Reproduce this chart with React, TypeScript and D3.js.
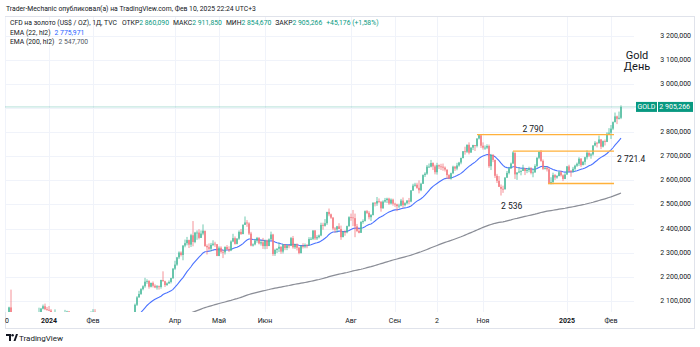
import React from "react";
import * as d3 from "d3";

type Bar = [number, number, number]; // high, low, close (open = previous close)

const firstOpen = 2040;

const nov23: Bar[] = [[2052, 2036, 2044], [2048, 2031, 2036]];
const dec23: Bar[] = [
  [2075, 2035, 2072], [2146, 2018, 2029], [2039, 2010, 2019], [2036, 2016, 2025], [2035, 2017, 2028],
  [2035, 1994, 2004], [2006, 1976, 1982], [1995, 1973, 1980], [2031, 1974, 2027], [2048, 2018, 2036],
  [2047, 2016, 2019], [2030, 2016, 2027], [2047, 2023, 2040], [2046, 2028, 2031], [2050, 2029, 2045],
  [2071, 2044, 2053], [2070, 2052, 2067], [2084, 2064, 2077], [2088, 2061, 2065], [2074, 2058, 2062],
];
const jan24: Bar[] = [
  [2078, 2057, 2059], [2065, 2030, 2042], [2051, 2035, 2043], [2064, 2024, 2045], [2046, 2017, 2027],
  [2041, 2022, 2030], [2038, 2020, 2024], [2040, 2013, 2029], [2062, 2029, 2049], [2058, 2045, 2055],
  [2057, 2024, 2028], [2031, 2001, 2006], [2025, 2008, 2023], [2036, 2018, 2029], [2033, 2016, 2022],
  [2035, 2010, 2029], [2037, 2012, 2014], [2024, 2009, 2020], [2025, 2012, 2018], [2036, 2016, 2033],
  [2043, 2030, 2037], [2056, 2032, 2039],
];
const feb24: Bar[] = [
  [2065, 2031, 2054], [2065, 2032, 2039], [2040, 2014, 2025], [2039, 2021, 2035], [2041, 2027, 2035],
  [2041, 2024, 2034], [2036, 2018, 2024], [2028, 2015, 2020], [2032, 1990, 1992], [1997, 1984, 1992],
  [2007, 1985, 2004], [2015, 1995, 2013], [2022, 2011, 2018], [2031, 2014, 2025], [2030, 2017, 2025],
  [2034, 2015, 2024], [2041, 2023, 2035], [2036, 2025, 2031], [2037, 2025, 2030], [2038, 2024, 2034],
  [2052, 2030, 2044],
];
const mar24: Bar[] = [
  [2088, 2043, 2083], [2119, 2078, 2114], [2141, 2112, 2128], [2152, 2124, 2148], [2164, 2143, 2160],
  [2195, 2154, 2179], [2189, 2170, 2182], [2185, 2150, 2158], [2175, 2155, 2174], [2180, 2155, 2162],
  [2168, 2152, 2155], [2165, 2146, 2160], [2163, 2146, 2157], [2187, 2150, 2186], [2222, 2179, 2181],
  [2183, 2157, 2165], [2176, 2162, 2172], [2184, 2170, 2178], [2195, 2172, 2194], [2236, 2190, 2233],
];
const apr24: Bar[] = [
  [2266, 2228, 2250], [2282, 2245, 2280], [2305, 2273, 2300], [2305, 2284, 2290], [2331, 2268, 2329],
  [2354, 2322, 2339], [2365, 2330, 2352], [2354, 2319, 2333], [2378, 2323, 2372], [2431, 2326, 2344],
  [2386, 2339, 2383], [2392, 2353, 2383], [2397, 2355, 2361], [2392, 2361, 2379], [2417, 2372, 2391],
  [2389, 2324, 2327], [2334, 2292, 2322], [2338, 2310, 2316], [2340, 2305, 2332], [2351, 2327, 2337],
  [2345, 2324, 2335], [2335, 2285, 2286],
];
const may24: Bar[] = [
  [2326, 2285, 2320], [2326, 2296, 2303], [2311, 2277, 2301], [2326, 2292, 2323], [2331, 2311, 2314],
  [2326, 2302, 2309], [2351, 2306, 2346], [2378, 2343, 2360], [2367, 2333, 2336], [2360, 2334, 2358],
  [2392, 2353, 2386], [2398, 2373, 2377], [2418, 2376, 2415], [2450, 2415, 2425], [2435, 2407, 2421],
  [2426, 2373, 2379], [2386, 2326, 2329], [2338, 2325, 2334], [2357, 2330, 2350], [2365, 2341, 2361],
  [2364, 2334, 2338], [2352, 2329, 2343], [2361, 2315, 2327],
];
const jun24: Bar[] = [
  [2354, 2314, 2350], [2354, 2315, 2327], [2359, 2327, 2355], [2387, 2352, 2375], [2378, 2286, 2294],
  [2316, 2286, 2311], [2318, 2298, 2316], [2342, 2302, 2324], [2326, 2295, 2304], [2335, 2296, 2333],
  [2335, 2310, 2319], [2334, 2310, 2330], [2332, 2318, 2328], [2365, 2327, 2360], [2369, 2316, 2322],
  [2337, 2315, 2334], [2338, 2309, 2320], [2324, 2293, 2298], [2331, 2296, 2327], [2339, 2317, 2326],
];
const jul24: Bar[] = [
  [2338, 2318, 2332], [2335, 2318, 2330], [2364, 2328, 2356], [2364, 2352, 2357], [2392, 2352, 2392],
  [2393, 2352, 2359], [2372, 2352, 2364], [2375, 2359, 2371], [2424, 2368, 2415], [2424, 2395, 2411],
  [2439, 2408, 2422], [2469, 2415, 2469], [2483, 2451, 2459], [2462, 2440, 2445], [2448, 2393, 2400],
  [2406, 2383, 2396], [2411, 2384, 2409], [2422, 2398, 2398], [2412, 2353, 2364], [2390, 2364, 2386],
  [2393, 2370, 2384], [2412, 2380, 2410], [2451, 2407, 2447],
];
const aug24: Bar[] = [
  [2462, 2432, 2446], [2477, 2410, 2443], [2462, 2364, 2409], [2419, 2385, 2390], [2400, 2380, 2382],
  [2431, 2382, 2427], [2438, 2420, 2431], [2475, 2429, 2472], [2477, 2460, 2465], [2472, 2438, 2447],
  [2460, 2431, 2456], [2509, 2454, 2507], [2510, 2492, 2504], [2531, 2494, 2514], [2525, 2505, 2512],
  [2512, 2470, 2484], [2517, 2482, 2512], [2527, 2507, 2518], [2528, 2506, 2524], [2528, 2498, 2504],
  [2525, 2500, 2520], [2524, 2495, 2503],
];
const sep24: Bar[] = [
  [2507, 2490, 2500], [2503, 2472, 2493], [2503, 2484, 2495], [2523, 2492, 2516], [2529, 2486, 2497],
  [2509, 2492, 2505], [2518, 2500, 2516], [2527, 2501, 2512], [2560, 2509, 2558], [2586, 2556, 2578],
  [2590, 2574, 2582], [2590, 2565, 2569], [2600, 2546, 2559], [2590, 2555, 2586], [2625, 2585, 2622],
  [2634, 2614, 2628], [2664, 2623, 2657], [2670, 2652, 2657], [2685, 2654, 2672], [2675, 2643, 2658],
  [2665, 2625, 2634],
];
const oct24: Bar[] = [
  [2673, 2624, 2663], [2666, 2647, 2658], [2669, 2643, 2657], [2670, 2640, 2653], [2658, 2637, 2645],
  [2645, 2606, 2622], [2626, 2605, 2608], [2632, 2603, 2630], [2661, 2626, 2657], [2660, 2639, 2649],
  [2673, 2642, 2662], [2677, 2657, 2674], [2695, 2667, 2693], [2722, 2691, 2721], [2740, 2707, 2719],
  [2749, 2714, 2748], [2758, 2708, 2715], [2738, 2716, 2736], [2748, 2726, 2747], [2747, 2722, 2743],
  [2775, 2737, 2774], [2790, 2770, 2788], [2786, 2735, 2744],
];
const nov24: Bar[] = [
  [2758, 2728, 2736], [2745, 2727, 2736], [2750, 2730, 2743], [2749, 2652, 2659], [2710, 2643, 2706],
  [2709, 2676, 2685], [2686, 2610, 2619], [2627, 2589, 2598], [2618, 2573, 2573], [2583, 2537, 2565],
  [2578, 2548, 2563], [2614, 2562, 2611], [2639, 2611, 2631], [2656, 2625, 2650], [2674, 2649, 2670],
  [2721, 2669, 2716], [2713, 2606, 2625], [2633, 2602, 2633], [2655, 2630, 2637], [2645, 2621, 2639],
  [2665, 2640, 2650],
];
const dec24: Bar[] = [
  [2652, 2622, 2639], [2650, 2630, 2643], [2657, 2634, 2650], [2655, 2625, 2631], [2648, 2613, 2633],
  [2667, 2632, 2660], [2696, 2654, 2694], [2721, 2688, 2718], [2726, 2677, 2681], [2687, 2643, 2648],
  [2658, 2645, 2652], [2657, 2637, 2646], [2653, 2584, 2586], [2613, 2583, 2593], [2632, 2584, 2622],
  [2626, 2602, 2612], [2622, 2607, 2618], [2639, 2617, 2634], [2640, 2616, 2621], [2625, 2597, 2606],
  [2630, 2605, 2624],
];
const jan25: Bar[] = [
  [2660, 2624, 2658], [2665, 2634, 2640], [2643, 2615, 2636], [2656, 2632, 2648], [2665, 2640, 2661],
  [2674, 2656, 2669], [2696, 2660, 2690], [2693, 2656, 2663], [2680, 2664, 2677], [2698, 2665, 2696],
  [2725, 2687, 2715], [2716, 2697, 2703], [2714, 2690, 2708], [2746, 2703, 2745], [2763, 2742, 2756],
  [2760, 2737, 2755], [2786, 2752, 2770], [2772, 2730, 2740], [2766, 2737, 2763], [2770, 2745, 2760],
  [2800, 2759, 2794], [2817, 2790, 2798],
];
const feb25: Bar[] = [
  [2830, 2772, 2815], [2845, 2809, 2842], [2882, 2841, 2866], [2869, 2834, 2856], [2886, 2853, 2860.09],
  [2911.85, 2854.67, 2905.266],
];

const monthGroups: Bar[][] = [nov23, dec23, jan24, feb24, mar24, apr24, may24, jun24, jul24, aug24, sep24, oct24, nov24, dec24, jan25, feb25];
const monthLabels = ["0", "", "2024", "Фев", "", "Апр", "Май", "Июн", "", "Авг", "Сен", "2", "Ноя", "", "2025", "Фев"];
const boldLabels = ["2024", "2025"];

const priceTicks = [2100, 2200, 2300, 2400, 2500, 2600, 2700, 2800, 2900, 3000, 3100, 3200];
const hiddenPriceTicks = [2900];

// horizontal levels drawn by the author: price, start bar index, end bar index
const levels: [number, number, number][] = [
  [2790, 236, 304.5],
  [2721.4, 254, 304.5],
  [2587, 271.5, 304.5],
];
// text, bar index, price position, anchor
const levelTexts: [string, number, number, string][] = [
  ["2 790", 264, 2815, "middle"],
  ["2 536", 248, 2495, "start"],
  ["2 721.4", 306, 2690, "start"],
];

const ema200Seed = 1962;

const headerLine = "Trader-Mechanic опубликовал(а) на TradingView.com, Фев 10, 2025 22:24 UTC+3";
const legendTitle = "CFD на золото (US$ / OZ), 1Д, TVC";
const legendOHLC: [string, string][] = [["ОТКР", "2 860,090"], ["МАКС", "2 911,850"], ["МИН", "2 854,670"], ["ЗАКР", "2 905,266"]];
const legendChange = "+45,176 (+1,58%)";
const ema22Label = ["EMA (22, hl2)", "2 775,971"];
const ema200Label = ["EMA (200, hl2)", "2 547,700"];
const lastLabel = ["GOLD", "2 905,266"];

const UP = "#4dbb9d";
const DOWN = "#f3777e";
const TEXT = "#131722";
const FONT = "Roboto, 'Noto Sans', sans-serif";

function ema(vals: number[], period: number, seed?: number) {
  const a = 2 / (period + 1);
  let e = seed ?? vals[0];
  return vals.map((v) => (e = e + a * (v - e)));
}

export default function App() {
  const bars: Bar[] = monthGroups.flat();
  const N = bars.length;
  const starts: number[] = [];
  let acc = 0;
  monthGroups.forEach((g) => {
    starts.push(acc);
    acc += g.length;
  });

  const plot = { left: 5, right: 634, top: 17, bottom: 312 };
  const x = d3.scaleLinear().domain([0, N - 1]).range([5, 5 + 2 * (N - 1)]);
  const y = d3.scaleLinear().domain([2100, 3200]).range([300.7, 36]);
  const loc = d3.formatLocale({ decimal: ",", thousands: " ", grouping: [3], currency: ["", ""] });
  const fmt = loc.format(",.3f");

  const hl2 = bars.map((b) => (b[0] + b[1]) / 2);
  const e22 = ema(hl2, 22);
  const e200 = ema(hl2, 200, ema200Seed);
  const line = d3
    .line<number>()
    .x((_, i) => x(i))
    .y((v) => y(v));

  const last = bars[N - 1][2];

  return (
    <svg width={700} height={347} style={{ display: "block", position: "absolute", left: 0, top: 0 }} fontFamily={FONT}>
      <rect width={700} height={347} fill="#ffffff" />
      <defs>
        <clipPath id="plotClip">
          <rect x={plot.left} y={plot.top} width={plot.right - plot.left} height={plot.bottom - plot.top} />
        </clipPath>
      </defs>
      {/* panel border */}
      <rect x={5.5} y={16.5} width={689} height={312} fill="none" stroke="#e0e3eb" strokeWidth={1} />

      {/* grid */}
      <g stroke="#f0f3fa" strokeWidth={1}>
        {priceTicks.map((p) => (
          <line key={p} x1={plot.left} x2={plot.right} y1={Math.round(y(p)) + 0.5} y2={Math.round(y(p)) + 0.5} />
        ))}
        {monthLabels.map((l, k) =>
          l ? <line key={k} x1={Math.round(x(starts[k])) + 0.5} x2={Math.round(x(starts[k])) + 0.5} y1={plot.top} y2={plot.bottom} /> : null
        )}
      </g>

      {/* last price line */}
      <line x1={plot.left} x2={636} y1={y(last)} y2={y(last)} stroke="#089981" strokeOpacity={0.3} strokeWidth={1} />

      <g clipPath="url(#plotClip)">
        {/* EMAs */}
        <path d={line(e200) || ""} fill="none" stroke="#8a8d96" strokeWidth={1.2} />
        <path d={line(e22) || ""} fill="none" stroke="#4a72ff" strokeWidth={1.1} />
        {/* candles */}
        {bars.map((b, i) => {
          const o = i === 0 ? firstOpen : bars[i - 1][2];
          const [h, l, c] = b;
          const up = c >= o;
          const col = up ? UP : DOWN;
          const cx = x(i);
          const top = y(Math.max(o, c));
          const bh = Math.max(0.8, y(Math.min(o, c)) - top);
          return (
            <g key={i}>
              <line x1={cx} x2={cx} y1={y(h)} y2={y(l)} stroke={col} strokeWidth={0.8} />
              <rect x={cx - 0.75} y={top} width={1.5} height={bh} fill={col} />
            </g>
          );
        })}
        {/* levels */}
        {levels.map(([p, a, b], k) => (
          <line key={k} x1={x(a)} x2={x(b)} y1={y(p)} y2={y(p)} stroke="#ffb13b" strokeWidth={1.4} />
        ))}
      </g>

      {/* level texts */}
      {levelTexts.map(([t, bi, p, anchor], k) => (
        <text key={k} x={x(bi)} y={y(p)} fontSize={8.5} fill={TEXT} textAnchor={anchor} dominantBaseline="central">
          {t}
        </text>
      ))}
      <text x={637} y={55} fontSize={11} fill={TEXT} textAnchor="middle" dominantBaseline="central">Gold</text>
      <text x={637} y={66.5} fontSize={11} fill={TEXT} textAnchor="middle" dominantBaseline="central">День</text>

      {/* price axis */}
      {priceTicks
        .filter((p) => !hiddenPriceTicks.includes(p))
        .map((p) => (
          <text key={p} x={691} y={y(p)} fontSize={7} fill={TEXT} textAnchor="end" dominantBaseline="central">
            {fmt(p)}
          </text>
        ))}
      <rect x={636} y={y(last) - 5} width={21} height={10} fill="#089981" />
      <rect x={658} y={y(last) - 5} width={35} height={10} fill="#089981" />
      <text x={646.5} y={y(last)} fontSize={7} fill="#fff" textAnchor="middle" dominantBaseline="central">{lastLabel[0]}</text>
      <text x={690} y={y(last)} fontSize={7} fill="#fff" textAnchor="end" dominantBaseline="central">{lastLabel[1]}</text>

      {/* time axis */}
      {monthLabels.map((l, k) =>
        l ? (
          <text key={k} x={Math.max(7, x(starts[k]))} y={320.5} fontSize={7} fill={TEXT} textAnchor="middle" dominantBaseline="central" fontWeight={boldLabels.includes(l) ? 700 : 400}>
            {l}
          </text>
        ) : null
      )}

      {/* header */}
      <text x={6} y={8.7} fontSize={6.8} fill={TEXT} dominantBaseline="central">{headerLine}</text>
      <text x={10} y={23.3} fontSize={6.8} fill={TEXT} dominantBaseline="central">
        <tspan>{legendTitle}</tspan>
        {legendOHLC.map(([k, v], i) => (
          <React.Fragment key={i}>
            <tspan dx={i === 0 ? 5 : 4}>{k}</tspan>
            <tspan fill="#089981">{v}</tspan>
          </React.Fragment>
        ))}
        <tspan dx={4} fill="#089981">{legendChange}</tspan>
      </text>
      <text x={10} y={32.7} fontSize={6.8} fill={TEXT} dominantBaseline="central">
        <tspan>{ema22Label[0]}</tspan>
        <tspan dx={4} fill="#2962ff">{ema22Label[1]}</tspan>
      </text>
      <text x={10} y={42} fontSize={6.8} fill={TEXT} dominantBaseline="central">
        <tspan>{ema200Label[0]}</tspan>
        <tspan dx={4} fill="#555a66">{ema200Label[1]}</tspan>
      </text>

      {/* TradingView logo */}
      <g fill={TEXT} transform="translate(6,334)">
        <path d="M0 0 H5 V7 H3 V2 H0 Z" />
        <circle cx={6.6} cy={1.2} r={1.2} />
        <path d="M7.5 7 L10 0 H12 L9.5 7 Z" />
      </g>
      <text x={19} y={338} fontSize={8} fill={TEXT} dominantBaseline="central">TradingView</text>
    </svg>
  );
}
